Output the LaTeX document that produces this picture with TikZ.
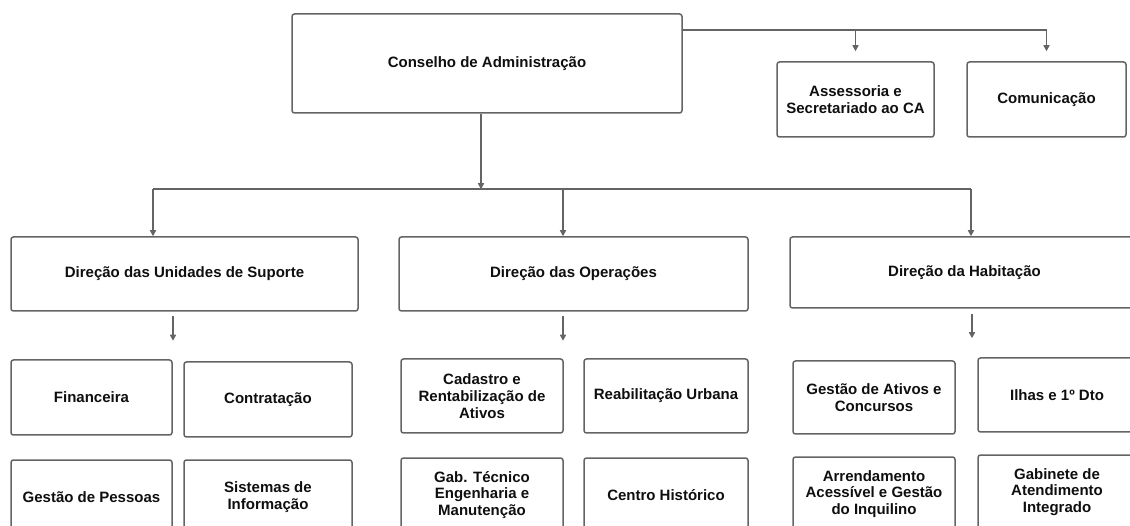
\documentclass[tikz,border=0pt]{standalone}
\usepackage{fontspec}
\setmainfont{Liberation Sans}
\usetikzlibrary{arrows.meta}
\definecolor{ln}{RGB}{100,100,100}
\definecolor{tx}{RGB}{15,15,15}
\begin{document}
\begin{tikzpicture}[x=1pt,y=-1pt,
  box/.style={draw=ln, line width=1.5pt, rounded corners=2.5pt, fill=white,
    align=center, text=tx, inner sep=0pt,
    font=\fontsize{15}{16.8}\selectfont\bfseries},
  wh/.style n args={2}{minimum width=#1pt, minimum height=#2pt},
  conn/.style={draw=ln, line width=1.5pt},
  arr/.style={conn, -{Triangle[length=6pt,width=6pt]}}]
\useasboundingbox (0,0) rectangle (1130,526);
\clip (0,0) rectangle (1130,526);

% top level
\node[box, wh={390}{99}] (cons) at (487,63.5) {Conselho de Administração};
\node[box, wh={157}{75}] (ass) at (855.5,99.5) {Assessoria e\\Secretariado ao CA};
\node[box, wh={159}{75}] (com) at (1046.5,99.5) {Comunicação};

% directions
\node[box, wh={347}{74}] (dus) at (184.5,274) {Direção das Unidades de Suporte};
\node[box, wh={349}{74}] (dop) at (573.5,274) {Direção das Operações};
\node[box, wh={349}{71}] (dha) at (964.5,272.5) {Direção da Habitação};

% units
\node[box, wh={161}{75}] (fin) at (91.5,397.5) {Financeira};
\node[box, wh={168}{75}] (ctr) at (268,399.5) {Contratação};
\node[box, wh={161}{74}] (gpe) at (91.5,497) {Gestão de Pessoas};
\node[box, wh={168}{74}] (sis) at (268,497) {Sistemas de\\Informação};

\node[box, wh={162}{74}] (cad) at (482,396) {Cadastro e\\Rentabilização de\\Ativos};
\node[box, wh={164}{74}] (rea) at (666,396) {Reabilitação Urbana};
\node[box, wh={162}{74}] (gab) at (482,495) {Gab. Técnico\\Engenharia e\\Manutenção};
\node[box, wh={164}{74}] (cen) at (666,495) {Centro Histórico};

\node[box, wh={162}{73}] (gat) at (874,397.5) {Gestão de Ativos e\\Concursos};
\node[box, wh={158}{74}] (ilh) at (1057,395) {Ilhas e 1º Dto};
\node[box, wh={162}{74}] (arr) at (874,494) {Arrendamento\\Acessível e Gestão\\do Inquilino};
\node[box, wh={158}{74}] (gai) at (1057,492) {Gabinete de\\Atendimento\\Integrado};

% connectors: top
\coordinate (t0) at ([yshift=-17pt]cons.north east);
\draw[conn] (t0) -- (t0 -| com.north);
\draw[arr] (t0 -| ass.north) -- ([yshift=10pt]ass.north);
\draw[arr] (t0 -| com.north) -- ([yshift=10pt]com.north);

% connectors: to directions
\coordinate (d1) at ([xshift=-31.5pt]dus.north);
\coordinate (d2) at ([xshift=-10.5pt]dop.north);
\coordinate (d3) at ([xshift=6.5pt]dop.north -| dha.north);
\coordinate (b1) at ([yshift=47pt]d1);
\coordinate (b2) at ([yshift=47pt]d2);
\coordinate (b3) at ([yshift=47pt]d3);
\draw[conn] (b1) -- (b3);
\draw[arr] (b1) -- (d1);
\draw[arr] (b2) -- (d2);
\draw[arr] (b3) -- (d3);
\coordinate (cs) at ([xshift=-6pt]cons.south);
\draw[arr] (cs) -- (cs |- b1);

% short arrows under directions
\coordinate (s1) at ([xshift=-11.5pt,yshift=-4pt]dus.south);
\coordinate (e1) at ([yshift=-25pt]s1);
\coordinate (s2) at ([xshift=-10.5pt,yshift=-4pt]dop.south);
\coordinate (e2) at ([yshift=-25pt]s2);
\coordinate (s3) at ([xshift=7.5pt,yshift=-5.5pt]dha.south);
\coordinate (e3) at ([yshift=-24pt]s3);
\draw[arr] (s1) -- (e1);
\draw[arr] (s2) -- (e2);
\draw[arr] (s3) -- (e3);
\end{tikzpicture}
\end{document}
